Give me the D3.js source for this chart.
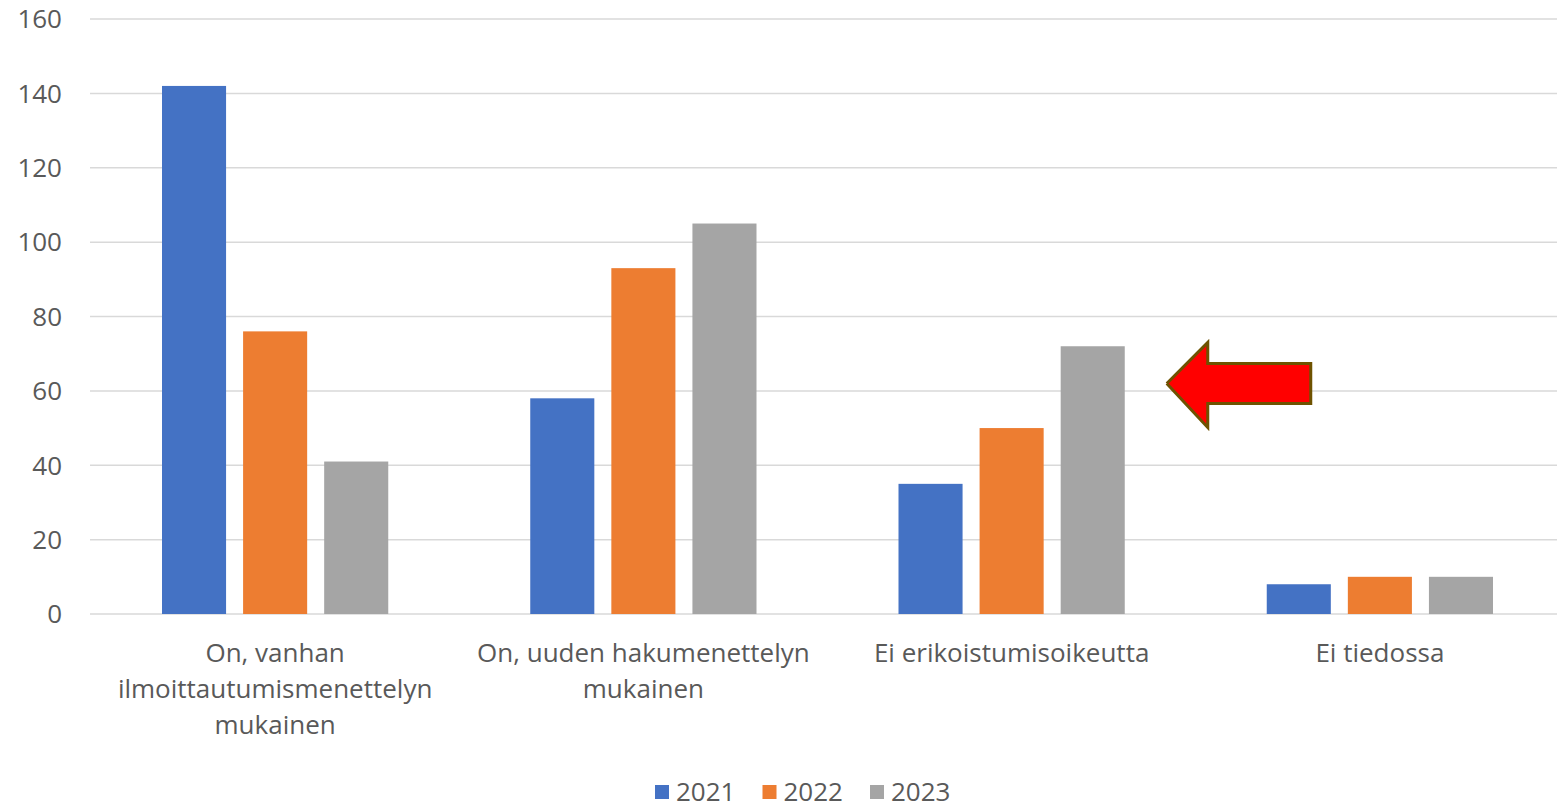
<!DOCTYPE html>
<html lang="fi">
<head>
<meta charset="UTF-8">
<title>Erikoistumisoikeus 2021–2023</title>
<script src="https://d3js.org/d3.v7.min.js"></script>
<style>
  body { margin: 0; background: #fff; }
  text { font-family: "Open Sans", "Noto Sans", sans-serif; fill: #595959; }
</style>
</head>
<body>
<div id="chart"></div>
<script>
const categories = [
  ["On, vanhan", "ilmoittautumismenettelyn", "mukainen"],
  ["On, uuden hakumenettelyn", "mukainen"],
  ["Ei erikoistumisoikeutta"],
  ["Ei tiedossa"]
];
const years = ["2021", "2022", "2023"];
const values2021 = [142, 58, 35, 8];
const values2022 = [76, 93, 50, 10];
const values2023 = [41, 105, 72, 10];
const yTicks = [0, 20, 40, 60, 80, 100, 120, 140, 160];
const colors = ["#4472C4", "#ED7D31", "#A5A5A5"];

const series = [values2021, values2022, values2023];

const width = 1557, height = 806;
const margin = { left: 91, right: -7, top: 19, bottom: 192 };

const svg = d3.select("#chart").append("svg")
  .attr("width", width)
  .attr("height", height);

const x = d3.scaleBand()
  .domain(d3.range(categories.length))
  .range([margin.left, width - margin.right])
  .paddingInner(0)
  .paddingOuter(0);

// bars inside a group: 64px wide, 81px step
const xInner = d3.scaleBand()
  .domain(years)
  .range([71, x.bandwidth() - 71])
  .paddingInner(17 / 81)
  .paddingOuter(0);

const y = d3.scaleLinear()
  .domain([0, 160])
  .range([height - margin.bottom, margin.top]);

// gridlines
svg.append("g")
  .selectAll("line")
  .data(yTicks)
  .join("line")
  .attr("x1", 90)
  .attr("x2", width)
  .attr("y1", d => y(d))
  .attr("y2", d => y(d))
  .attr("stroke", "#D9D9D9")
  .attr("stroke-width", 1.5);

// y labels
svg.append("g")
  .selectAll("text")
  .data(yTicks)
  .join("text")
  .attr("x", 62)
  .attr("y", d => y(d))
  .attr("dy", "0.36em")
  .attr("text-anchor", "end")
  .style("font-size", "26px")
  .text(d => d);

// bars
const groups = svg.append("g")
  .selectAll("g")
  .data(categories.map((c, i) => i))
  .join("g")
  .attr("transform", i => `translate(${x(i)},0)`);

groups.selectAll("rect")
  .data(i => years.map((yr, k) => ({ yr, k, v: series[k][i] })))
  .join("rect")
  .attr("x", d => xInner(d.yr))
  .attr("width", xInner.bandwidth())
  .attr("y", d => y(d.v))
  .attr("height", d => y(0) - y(d.v))
  .attr("fill", d => colors[d.k]);

// category labels
const labels = svg.append("g")
  .selectAll("text")
  .data(categories)
  .join("text")
  .attr("text-anchor", "middle")
  .style("font-size", "26px")
  .attr("transform", (d, i) => `translate(${x(i) + x.bandwidth() / 2},${y(0) + 48})`);

labels.selectAll("tspan")
  .data(d => d)
  .join("tspan")
  .attr("x", 0)
  .attr("y", (d, j) => j * 36)
  .text(d => d);

// legend
const legend = svg.append("g")
  .attr("transform", "translate(655,792)");

const item = legend.selectAll("g")
  .data(years)
  .join("g")
  .attr("transform", (d, i) => `translate(${i * 107.5},0)`);

item.append("rect")
  .attr("x", 0)
  .attr("y", -7)
  .attr("width", 14)
  .attr("height", 14)
  .attr("fill", (d, i) => colors[i]);

item.append("text")
  .attr("x", 21)
  .attr("y", 0)
  .attr("dy", "0.36em")
  .style("font-size", "26px")
  .text(d => d);

// red arrow pointing at the 2023 bar of "Ei erikoistumisoikeutta"
const tipX = x(2) + xInner("2023") + xInner.bandwidth() + 42;
const tipY = y(62);
const arrow = [
  [0, 0], [41, -41], [41, -20], [144, -20],
  [144, 20], [41, 20], [41, 44], [0, 0]
];
svg.append("path")
  .attr("d", d3.line()(arrow.map(p => [tipX + p[0], tipY + p[1]])))
  .attr("fill", "#FF0000")
  .attr("stroke", "#6E5200")
  .attr("stroke-width", 3)
  .attr("stroke-linejoin", "miter");
</script>
</body>
</html>
